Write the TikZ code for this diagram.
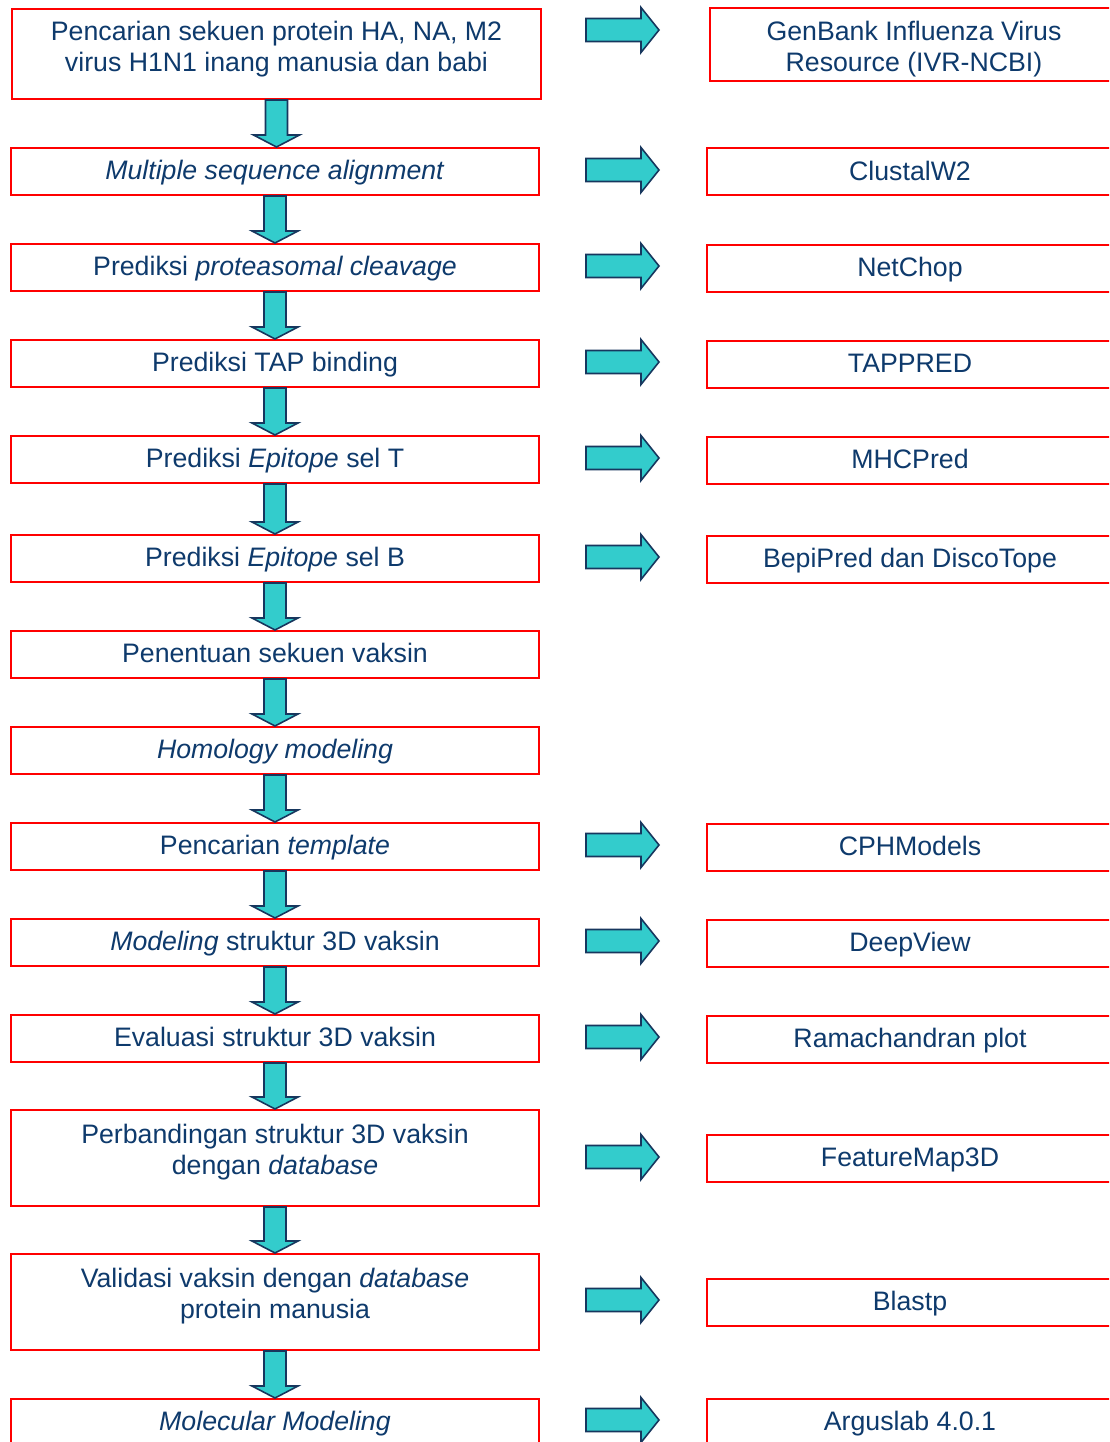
\documentclass[tikz,border=0pt]{standalone}
\usepackage{fontspec}
\setmainfont{Liberation Sans}
\usetikzlibrary{calc}

\definecolor{boxred}{HTML}{FF0000}
\definecolor{textnavy}{HTML}{0E3A6C}
\definecolor{blockcyan}{HTML}{33CCCC}
\definecolor{blocknavy}{HTML}{17375E}

\newcommand{\twoline}[3]{\raisebox{#1}[\height][\depth]{\begin{tabular}{@{}c@{}}#2\\#3\end{tabular}}}
\newcommand{\downblock}[2]{\draw[block_style] ($(#1.south)+(-11,0)$) -- ($(#1.south)+(11,0)$) -- ($(#1.south |- #2.north)+(11,-12)$) -- ($(#1.south |- #2.north)+(23,-12)$) -- (#1.south |- #2.north) -- ($(#1.south |- #2.north)+(-23,-12)$) -- ($(#1.south |- #2.north)+(-11,-12)$) -- cycle;}
\newcommand{\rightblock}[1]{\draw[block_style] #1 ++(0,-11.5) -- ++(55,0) -- ++(0,-11) -- ++(18,22.5) -- ++(-18,22.5) -- ++(0,-11) -- ++(-55,0) -- cycle;}

\begin{document}
\begin{tikzpicture}[x=1pt, y=-1pt,
		box_style/.style={rectangle,draw=boxred,line width=2pt,fill=white,text=textnavy,
			font=\fontsize{26.7}{31}\selectfont,inner sep=0pt,
			minimum width=528pt,minimum height=47pt,text height=19.3pt,text depth=2.5pt},
		tool_style/.style={box_style,minimum width=406pt},
		two_style/.style={text height=,text depth=},
		block_style/.style={draw=blocknavy,fill=blockcyan,line width=1.6pt,line join=miter}]
		
		\useasboundingbox (0,0) rectangle (1109,1442);
		\clip (0,0) rectangle (1109,1442);
		
		\node[box_style,two_style,minimum width=529pt,minimum height=90pt] (l1) at (276.5,54) {\twoline{4.5pt}{Pencarian sekuen protein HA, NA, M2}{virus H1N1 inang manusia dan babi}};
		\node[box_style] (l2) at (275,171.5) {\textit{Multiple sequence alignment}};
		\node[box_style] (l3) at (275,267.5) {Prediksi \textit{proteasomal cleavage}};
		\node[box_style] (l4) at (275,363.5) {Prediksi TAP binding};
		\node[box_style] (l5) at (275,459.5) {Prediksi \textit{Epitope} sel T};
		\node[box_style] (l6) at (275,558.5) {Prediksi \textit{Epitope} sel B};
		\node[box_style] (l7) at (275,654.5) {Penentuan sekuen vaksin};
		\node[box_style] (l8) at (275,750.5) {\textit{Homology modeling}};
		\node[box_style] (l9) at (275,846.5) {Pencarian \textit{template}};
		\node[box_style] (l10) at (275,942.5) {\textit{Modeling} struktur 3D vaksin};
		\node[box_style] (l11) at (275,1038.5) {Evaluasi struktur 3D vaksin};
		\node[box_style,two_style,minimum height=96pt] (l12) at (275,1158) {\twoline{5.5pt}{Perbandingan struktur 3D vaksin}{dengan \textit{database}}};
		\node[box_style,two_style,minimum height=96pt] (l13) at (275,1302) {\twoline{5.5pt}{Validasi vaksin dengan \textit{database}}{protein manusia}};
		\node[box_style] (l14) at (275,1422.5) {\textit{Molecular Modeling}};
		
		\node[tool_style,two_style,minimum width=408pt,minimum height=73pt] (r1) at (914,44.5) {\twoline{-5pt}{GenBank Influenza Virus}{Resource (IVR-NCBI)}};
		\node[tool_style] (r2) at (910,172) {ClustalW2};
		\node[tool_style] (r3) at (910,268) {NetChop};
		\node[tool_style] (r4) at (910,364) {TAPPRED};
		\node[tool_style] (r5) at (910,460) {MHCPred};
		\node[tool_style] (r6) at (910,559) {BepiPred dan DiscoTope};
		\node[tool_style] (r9) at (910,847) {CPHModels};
		\node[tool_style] (r10) at (910,943) {DeepView};
		\node[tool_style] (r11) at (910,1039) {Ramachandran plot};
		\node[tool_style] (r12) at (910,1158.5) {FeatureMap3D};
		\node[tool_style] (r13) at (910,1302.5) {Blastp};
		\node[tool_style] (r14) at (910,1422.5) {Arguslab 4.0.1};
		
		\downblock{l1}{l2}
		\downblock{l2}{l3}
		\downblock{l3}{l4}
		\downblock{l4}{l5}
		\downblock{l5}{l6}
		\downblock{l6}{l7}
		\downblock{l7}{l8}
		\downblock{l8}{l9}
		\downblock{l9}{l10}
		\downblock{l10}{l11}
		\downblock{l11}{l12}
		\downblock{l12}{l13}
		\downblock{l13}{l14}
		
		\rightblock{($(586,0 |- r1)+(0,-14.5)$)}
		\rightblock{($(586,0 |- r2)+(0,-2)$)}
		\rightblock{($(586,0 |- r3)+(0,-2)$)}
		\rightblock{($(586,0 |- r4)+(0,-2)$)}
		\rightblock{($(586,0 |- r5)+(0,-2)$)}
		\rightblock{($(586,0 |- r6)+(0,-2)$)}
		\rightblock{($(586,0 |- r9)+(0,-2)$)}
		\rightblock{($(586,0 |- r10)+(0,-2)$)}
		\rightblock{($(586,0 |- r11)+(0,-2)$)}
		\rightblock{($(586,0 |- r12)+(0,-1.5)$)}
		\rightblock{($(586,0 |- r13)+(0,-2.5)$)}
		\rightblock{($(586,0 |- r14)+(0,-2.5)$)}
		
\end{tikzpicture}
\end{document}
